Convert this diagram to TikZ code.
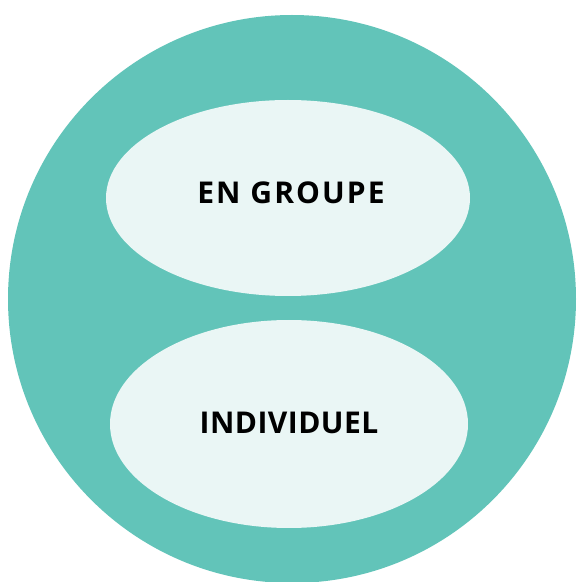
\documentclass[tikz,border=0pt]{standalone}
\usepackage{fontspec}
\setmainfont{Open Sans}
\newfontfamily\grpfont[LetterSpace=7]{Open Sans}
\newfontfamily\indfont[LetterSpace=1.5]{Open Sans}
\definecolor{teal1}{HTML}{62C4B9}
\definecolor{pale}{HTML}{EAF6F5}
\usetikzlibrary{shapes.geometric}
\tikzset{
  blob/.style={ellipse, fill=pale, draw=none, inner sep=0pt},
  lbl/.style={inner sep=0pt, text=black}
}
\begin{document}
\begin{tikzpicture}[x=1pt,y=1pt]
\useasboundingbox (0,0) rectangle (579,582);
\clip (0,0) rectangle (579,582);
\fill[teal1] (292,283) circle (284);
\node[blob, minimum width=364, minimum height=196] (grp) at (288,384) {};
\node[blob, minimum width=358, minimum height=208] (ind) at (289,158) {};
\node[lbl, font=\grpfont\fontsize{30}{34}\selectfont\bfseries] (grpt) at (291,389) {EN GROUPE};
\node[lbl, font=\indfont\fontsize{30}{34}\selectfont\bfseries] (indt) at (289,159.5) {INDIVIDUEL};
\end{tikzpicture}
\end{document}
